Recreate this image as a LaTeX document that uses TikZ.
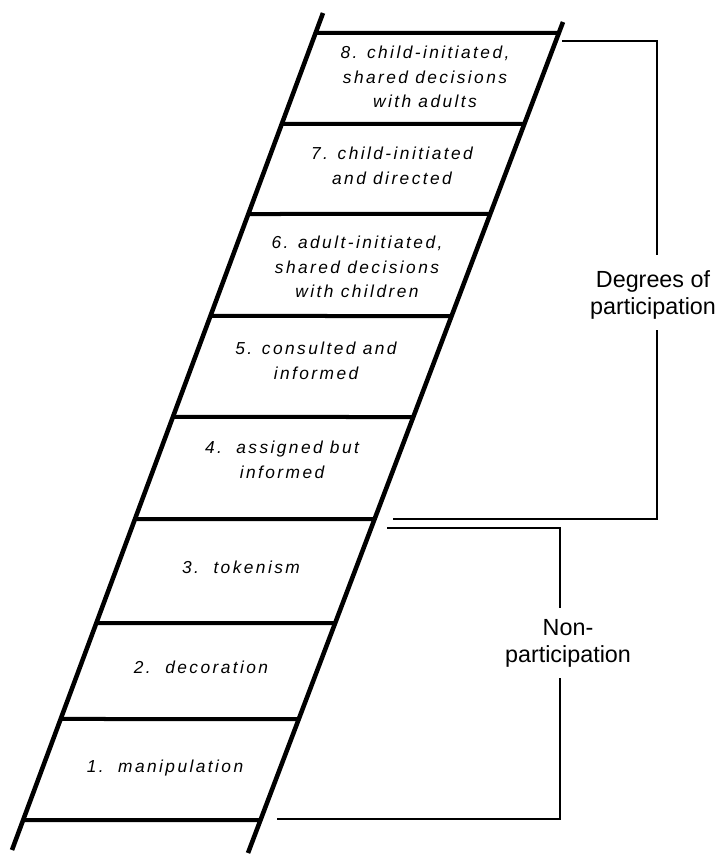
\documentclass[tikz,border=0pt]{standalone}
\usepackage{fontspec}
\setmainfont{Liberation Sans}
\newfontfamily\rungfont[LetterSpace=14]{Liberation Sans}
\usetikzlibrary{calc}
\tikzset{
  rail/.style={line width=3.4pt, line cap=butt},
  rung/.style={line width=3pt, line cap=butt},
  brk/.style={line width=1.5pt},
  lbl/.style={align=center, inner sep=0pt, font=\rungfont\itshape\fontsize{13}{18.5}\selectfont},
  side/.style={align=center, inner sep=0pt, font=\fontsize{17.5}{20.25}\selectfont},
}
\begin{document}
\begin{tikzpicture}[x=0.75pt,y=-0.75pt]
\useasboundingbox (0,0) rectangle (720,856);
% rails
\coordinate (Lt) at (323,13);
\coordinate (Lb) at (12,850);
\coordinate (Rt) at (563,22);
\coordinate (Rb) at (248,853);
\draw[rail] (Lt) -- (Lb);
\draw[rail] (Rt) -- (Rb);
% rungs
\foreach \i/\yy in {1/820,2/719,3/623,4/519,5/417,6/316,7/214,8/124,9/33} {
  \coordinate (l\i) at ($(Lt)!{(\yy-13)/837}!(Lb)$);
  \coordinate (r\i) at ($(Rt)!{(\yy-22)/831}!(Rb)$);
  \draw[rung] (l\i) -- (r\i);
}
% rung labels
\node[lbl] (t8) at (425,77) {8. child-initiated,\\shared decisions\\with adults};
\node[lbl] (t7) at (392,166) {7. child-initiated\\and directed};
\node[lbl] (t6) at (357,267) {6. adult-initiated,\\shared decisions\\with children};
\node[lbl] (t5) at (316,361) {5. consulted and\\informed};
\node[lbl] (t4) at (282,460) {4.\ \ assigned but\\informed};
\node[lbl] (t3) at (241,567) {3.\ \ tokenism};
\node[lbl] (t2) at (201,667) {2.\ \ decoration};
\node[lbl] (t1) at (165,768) {1.\ \ manipulation};
% degrees bracket
\coordinate (d1) at (562,41);
\coordinate (d2) at (657,41);
\coordinate (d3) at (657,255);
\coordinate (d4) at (657,330);
\coordinate (d5) at (657,519);
\coordinate (d6) at (393,519);
\draw[brk] (d1) -- (d2) -- (d3);
\draw[brk] (d4) -- (d5) -- (d6);
\node[side] (deg) at (653,295) {Degrees of\\participation};
% non-participation bracket
\coordinate (n1) at (387,528);
\coordinate (n2) at (560,528);
\coordinate (n3) at (560,608);
\coordinate (n4) at (560,678);
\coordinate (n5) at (560,819);
\coordinate (n6) at (277,819);
\draw[brk] (n1) -- (n2) -- (n3);
\draw[brk] (n4) -- (n5) -- (n6);
\node[side] (non) at (568,643) {Non-\\participation};
\end{tikzpicture}
\end{document}
